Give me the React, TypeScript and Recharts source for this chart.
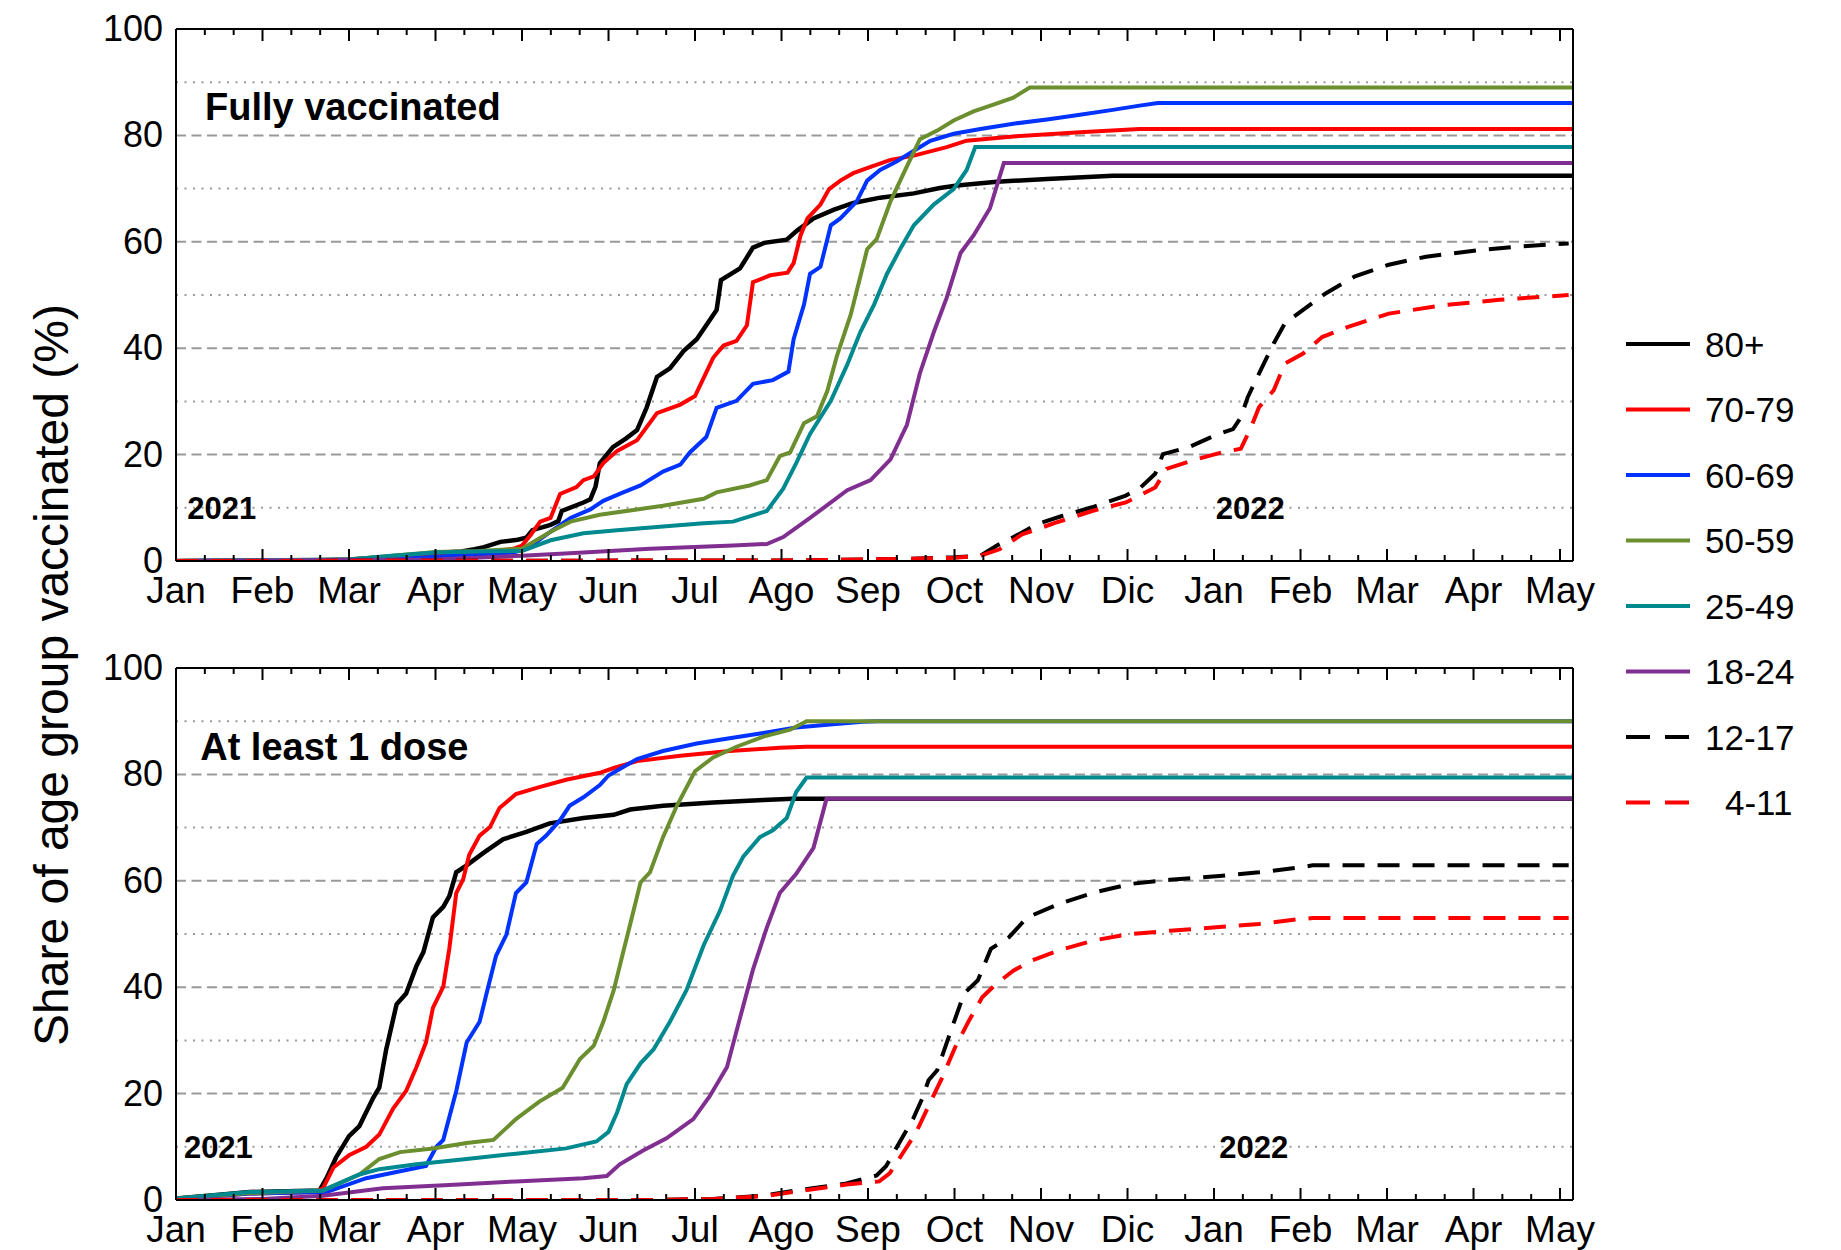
import React from 'react';
import { LineChart, Line, XAxis, YAxis, ReferenceLine, ReferenceDot } from 'recharts';

// x values are months since Jan 2021 (0 = Jan, 12 = Jan 2022), y values are % vaccinated
const MONTHS = ['Jan', 'Feb', 'Mar', 'Apr', 'May', 'Jun', 'Jul', 'Ago', 'Sep', 'Oct', 'Nov', 'Dic', 'Jan', 'Feb', 'Mar', 'Apr', 'May'];
const Y_TICKS = [0, 20, 40, 60, 80, 100];
const GRID_DASHED = [20, 40, 60, 80];
const GRID_DOTTED = [10, 30, 50, 70, 90];
const GROUPS = ['80+', '70-79', '60-69', '50-59', '25-49', '18-24', '12-17', '4-11'];
const COLORS = ['#000000', '#ff0000', '#0033ff', '#6b8e2f', '#00898f', '#802f90', '#000000', '#ff0000'];
const DASHED = [false, false, false, false, false, false, true, true];

type Pt = [number, number];

// Fully vaccinated
const full80: Pt[] = [[0, 0], [1.5, 0.1], [2.0, 0.3], [2.5, 0.8], [3.0, 1.5], [3.3, 1.8], [3.45, 2.2], [3.56, 2.6], [3.75, 3.6], [3.95, 4.0], [4.05, 4.4], [4.12, 5.8], [4.33, 6.8], [4.42, 7.5], [4.46, 9.4], [4.71, 11], [4.79, 11.6], [4.85, 14], [4.9, 18.4], [5.05, 21.4], [5.2, 23], [5.33, 24.6], [5.44, 28.8], [5.56, 34.6], [5.71, 36.2], [5.87, 39.5], [6.02, 41.7], [6.13, 44.3], [6.25, 47.2], [6.3, 52.8], [6.52, 55], [6.67, 58.9], [6.8, 59.8], [7.06, 60.4], [7.18, 62.1], [7.37, 64.4], [7.6, 66], [7.83, 67.3], [8.14, 68.3], [8.53, 69.1], [8.83, 70.1], [9.03, 70.6], [9.49, 71.3], [10.07, 71.8], [10.83, 72.4], [11.14, 72.4], [16.15, 72.4]];
const full70: Pt[] = [[0, 0], [2.0, 0.2], [3.0, 1.0], [3.5, 1.5], [3.9, 2.3], [4.0, 2.9], [4.1, 4.9], [4.21, 7.4], [4.33, 8.1], [4.44, 12.6], [4.63, 13.9], [4.71, 15.2], [4.83, 15.9], [4.94, 18.4], [5.1, 20.7], [5.33, 22.7], [5.56, 27.8], [5.83, 29.4], [6.0, 31], [6.21, 38.2], [6.33, 40.5], [6.48, 41.4], [6.6, 44.3], [6.67, 52.4], [6.87, 53.7], [7.07, 54.2], [7.14, 56], [7.22, 61.2], [7.3, 64.4], [7.45, 67], [7.55, 69.9], [7.68, 71.5], [7.83, 72.9], [8.03, 74.1], [8.26, 75.4], [8.53, 76.2], [8.91, 77.8], [9.14, 79], [9.68, 79.8], [10.45, 80.6], [11.14, 81.2], [16.15, 81.2]];
const full60: Pt[] = [[0, 0], [2.5, 0.3], [3.0, 0.8], [3.5, 1.2], [3.9, 1.6], [4.06, 2.3], [4.33, 5.5], [4.56, 8.1], [4.79, 9.7], [4.94, 11.3], [5.17, 12.9], [5.37, 14.2], [5.63, 16.8], [5.83, 18.1], [5.94, 20.4], [6.13, 23.3], [6.25, 28.8], [6.48, 30.1], [6.67, 33.3], [6.9, 34], [7.08, 35.6], [7.14, 41.7], [7.26, 48.2], [7.33, 54], [7.45, 55.3], [7.57, 63.1], [7.68, 64.4], [7.87, 67.6], [7.99, 71.5], [8.14, 73.5], [8.33, 75.1], [8.53, 77.1], [8.72, 79], [8.99, 80.3], [9.3, 81.2], [9.68, 82.2], [10.07, 83], [10.45, 83.9], [10.83, 84.8], [11.14, 85.6], [11.35, 86.1], [16.15, 86.1]];
const full50: Pt[] = [[0, 0], [2.0, 0.3], [2.5, 1.0], [3.0, 1.7], [3.5, 1.9], [4.0, 2.3], [4.33, 5.5], [4.56, 7.4], [4.9, 8.7], [5.33, 9.7], [5.63, 10.4], [6.1, 11.7], [6.25, 12.9], [6.63, 14.2], [6.83, 15.2], [6.98, 19.7], [7.1, 20.4], [7.26, 25.9], [7.41, 27.2], [7.53, 32], [7.64, 38.5], [7.8, 46.3], [7.91, 53.4], [7.99, 58.6], [8.1, 60.5], [8.26, 67.6], [8.41, 72.8], [8.6, 79.3], [8.8, 80.9], [8.99, 82.8], [9.22, 84.5], [9.45, 85.8], [9.68, 87.1], [9.87, 89], [16.15, 89]];
const full25: Pt[] = [[0, 0], [2.0, 0.3], [2.5, 1.0], [3.0, 1.6], [3.5, 1.8], [4.0, 1.9], [4.33, 3.9], [4.71, 5.2], [5.1, 5.8], [5.63, 6.5], [6.1, 7.1], [6.44, 7.4], [6.83, 9.4], [7.02, 13.6], [7.17, 18.4], [7.33, 23.9], [7.57, 30.1], [7.76, 36.9], [7.91, 43], [8.07, 48.2], [8.22, 54], [8.37, 58.6], [8.53, 63.1], [8.76, 67], [8.99, 69.9], [9.14, 73.5], [9.24, 77.8], [16.15, 77.8]];
const full18: Pt[] = [[0, 0], [3.0, 0.3], [4.0, 1.0], [4.71, 1.6], [5.48, 2.3], [6.44, 2.9], [6.83, 3.2], [7.02, 4.5], [7.33, 8.1], [7.76, 13.3], [8.03, 15.2], [8.26, 19.1], [8.45, 25.6], [8.6, 35.3], [8.76, 43], [8.91, 49.5], [9.07, 57.9], [9.22, 61.2], [9.41, 66.3], [9.57, 74.8], [16.15, 74.8]];
const full12: Pt[] = [[0, 0], [7.0, 0.1], [8.5, 0.4], [9.0, 0.7], [9.3, 1.0], [9.49, 2.9], [9.74, 5.0], [9.95, 6.9], [10.25, 8.5], [10.59, 10.1], [10.98, 12.3], [11.15, 13.8], [11.32, 16.4], [11.41, 20.1], [11.71, 21.4], [12.01, 23.6], [12.22, 24.8], [12.31, 27], [12.39, 30.8], [12.52, 35.2], [12.69, 40.9], [12.82, 44.7], [13.03, 47.2], [13.29, 50.3], [13.63, 53.5], [14.02, 55.7], [14.45, 57.2], [15.09, 58.5], [15.52, 59.1], [16.1, 59.7]];
const full4: Pt[] = [[0, 0], [7.0, 0.1], [8.5, 0.4], [9.0, 0.6], [9.3, 1.0], [9.52, 2.2], [9.78, 5.0], [10.17, 7.2], [10.59, 9.4], [10.98, 11], [11.32, 13.8], [11.45, 17.3], [11.75, 18.9], [12.09, 20.4], [12.31, 21.1], [12.43, 25.2], [12.52, 28.9], [12.69, 32.1], [12.82, 37.1], [13.03, 39], [13.25, 42.1], [13.55, 44], [14.02, 46.5], [14.66, 48.1], [15.3, 49.1], [16.1, 50]];

// At least 1 dose
const dose80: Pt[] = [[0, 0.3], [0.5, 1.0], [0.85, 1.5], [1.66, 1.8], [1.74, 4.1], [1.85, 8], [2.0, 12], [2.12, 13.9], [2.28, 19.2], [2.35, 21.1], [2.43, 28.3], [2.55, 36.8], [2.66, 38.8], [2.78, 44], [2.86, 46.6], [2.97, 53.1], [3.09, 55.1], [3.16, 57.1], [3.24, 61.6], [3.36, 62.9], [3.55, 65.2], [3.78, 67.8], [4.05, 69.2], [4.32, 70.8], [4.71, 71.8], [5.06, 72.4], [5.25, 73.4], [5.63, 74.1], [6.21, 74.7], [6.79, 75.2], [7.13, 75.4], [16.15, 75.4]];
const dose70: Pt[] = [[0, 0.2], [0.85, 1.2], [1.6, 1.5], [1.7, 2.2], [1.82, 6.1], [2.0, 8.4], [2.2, 10], [2.35, 12.3], [2.51, 17.2], [2.66, 20.5], [2.78, 25], [2.89, 29.6], [2.97, 36.1], [3.09, 40.1], [3.16, 47.3], [3.24, 57.7], [3.32, 60.3], [3.39, 64.9], [3.51, 68.5], [3.63, 70.1], [3.74, 73.7], [3.93, 76.3], [4.2, 77.6], [4.51, 79], [4.9, 80.3], [5.06, 81.2], [5.33, 82.5], [5.83, 83.5], [6.4, 84.4], [6.98, 85], [7.29, 85.2], [16.15, 85.2]];
const dose60: Pt[] = [[0, 0.2], [0.85, 1.2], [1.74, 1.5], [2.2, 4.1], [2.59, 5.4], [2.89, 6.4], [3.01, 10], [3.09, 11.3], [3.24, 20.5], [3.36, 29.6], [3.51, 33.5], [3.59, 38.8], [3.7, 45.9], [3.82, 49.9], [3.93, 57.7], [4.05, 59.7], [4.17, 66.9], [4.28, 68.5], [4.44, 71.4], [4.55, 74.1], [4.71, 75.7], [4.9, 78], [5.0, 79.8], [5.33, 82.9], [5.63, 84.4], [6.02, 85.8], [6.4, 86.8], [6.79, 87.8], [7.17, 88.8], [7.56, 89.4], [7.94, 89.9], [8.1, 90], [16.15, 90]];
const dose50: Pt[] = [[0, 0.3], [0.85, 1.3], [1.7, 1.8], [2.12, 4.8], [2.35, 7.7], [2.59, 9], [2.97, 9.7], [3.36, 10.7], [3.67, 11.3], [3.93, 15.2], [4.2, 18.5], [4.47, 21.1], [4.67, 26.5], [4.83, 29], [4.94, 33.5], [5.06, 39.4], [5.17, 46.6], [5.25, 51.8], [5.37, 59.7], [5.48, 61.6], [5.63, 68.2], [5.79, 74.1], [6.0, 80.6], [6.21, 83.2], [6.48, 85.2], [6.79, 87.1], [7.1, 88.4], [7.29, 90], [16.15, 90]];
const dose25: Pt[] = [[0, 0.3], [0.85, 1.5], [1.7, 1.8], [2.12, 4.8], [2.35, 5.8], [2.78, 6.7], [3.36, 7.7], [3.93, 8.7], [4.51, 9.7], [4.86, 11], [5.0, 12.8], [5.1, 16.5], [5.21, 21.8], [5.37, 25.7], [5.52, 28.3], [5.71, 33.5], [5.9, 39.4], [6.1, 47.9], [6.29, 54.4], [6.44, 61], [6.56, 64.6], [6.75, 68.2], [6.9, 69.5], [7.06, 71.8], [7.17, 76.7], [7.29, 79.4], [16.15, 79.4]];
const dose18: Pt[] = [[0, 0], [1.0, 0.2], [1.7, 0.8], [2.39, 2.2], [3.16, 2.8], [3.93, 3.5], [4.71, 4.1], [4.98, 4.5], [5.13, 6.7], [5.4, 9.3], [5.67, 11.6], [5.98, 15.2], [6.17, 19.5], [6.37, 25], [6.52, 34.2], [6.67, 43.3], [6.83, 51.2], [6.98, 57.7], [7.17, 61.3], [7.37, 66.2], [7.52, 75.4], [16.15, 75.4]];
const dose12: Pt[] = [[0, 0], [5.5, 0], [6.21, 0.2], [6.79, 0.8], [7.17, 1.8], [7.75, 3.1], [8.1, 4.6], [8.21, 6.4], [8.37, 11], [8.52, 15.2], [8.63, 19.2], [8.7, 22.5], [8.8, 24.4], [8.96, 31.9], [9.11, 38.8], [9.27, 41.3], [9.42, 47.2], [9.63, 49.4], [9.84, 53.1], [10.2, 55.6], [10.61, 57.8], [11.03, 59.4], [11.49, 60.2], [12.06, 60.9], [12.52, 61.6], [12.99, 62.5], [13.14, 62.9], [16.1, 62.9]];
const dose4: Pt[] = [[0, 0], [5.5, 0], [6.21, 0.2], [6.79, 0.7], [7.17, 1.6], [7.75, 2.9], [8.13, 3.5], [8.25, 5], [8.39, 8.5], [8.55, 12.5], [8.75, 19.4], [8.86, 23.1], [9.01, 28.8], [9.17, 33.8], [9.32, 38.1], [9.48, 40.6], [9.68, 43.1], [9.89, 45], [10.2, 46.9], [10.61, 48.8], [11.03, 50], [11.49, 50.6], [12.06, 51.3], [12.52, 51.9], [12.99, 52.8], [13.14, 53], [16.1, 53]];

const FULL = [full80, full70, full60, full50, full25, full18, full12, full4];
const DOSE = [dose80, dose70, dose60, dose50, dose25, dose18, dose12, dose4];

const X_MAX = 16.15;
const X_TICKS = Array.from({ length: 49 }, (_, i) => i / 3);
const W = 1841;
const PLOT_LEFT = 176;
const PLOT_RIGHT = 1573;
const AXIS_H = 50;
const FONT = '"Liberation Sans", Arial, Helvetica, sans-serif';

const isMajor = (v: number) => Math.abs(v - Math.round(v)) < 0.01;

const BottomTick = (props: any) => {
  const { x, y, payload } = props;
  const major = isMajor(payload.value);
  return (
    <g>
      <line x1={x} x2={x} y1={y} y2={y - (major ? 12 : 6)} stroke="#000" strokeWidth={2} />
      {major && (
        <text x={x} y={y + 42} textAnchor="middle" fontSize={37} fontFamily={FONT} fill="#000">
          {MONTHS[Math.round(payload.value)]}
        </text>
      )}
    </g>
  );
};

const TopTick = (props: any) => {
  const { x, y, payload } = props;
  const major = isMajor(payload.value);
  return <line x1={x} x2={x} y1={y} y2={y + (major ? 12 : 6)} stroke="#000" strokeWidth={2} />;
};

const LeftTick = (props: any) => {
  const { x, y, payload } = props;
  return (
    <text x={x - 13} y={y + 12} textAnchor="end" fontSize={36} fontFamily={FONT} fill="#000">
      {payload.value}
    </text>
  );
};

const label = (text: string, size: number, anchor: 'start' | 'middle') => (p: any) => (
  <text x={p.cx} y={p.cy + size * 0.36} textAnchor={anchor} fontSize={size} fontWeight="bold" fontFamily={FONT} fill="#000">
    {text}
  </text>
);

interface PanelProps {
  series: Pt[][];
  title: string;
  titleAt: Pt;
  year1At: Pt;
  year2At: Pt;
  height: number;
  plotTop: number;
  plotBottom: number;
}

function Panel({ series, title, titleAt, year1At, year2At, height, plotTop, plotBottom }: PanelProps) {
  const axisLine = { stroke: '#000', strokeWidth: 2 };
  return (
    <LineChart
      width={W}
      height={height}
      margin={{ top: plotTop - 1, left: PLOT_LEFT - 60, right: W - PLOT_RIGHT - 1, bottom: height - plotBottom - AXIS_H }}
    >
      <XAxis type="number" dataKey="x" domain={[0, X_MAX]} ticks={X_TICKS} interval={0} height={AXIS_H}
        tickSize={0} tickMargin={0} tickLine={false} tick={BottomTick} axisLine={axisLine} allowDataOverflow />
      <XAxis xAxisId="t" orientation="top" type="number" dataKey="x" domain={[0, X_MAX]} ticks={X_TICKS} interval={0}
        height={1} tickSize={0} tickMargin={0} tickLine={false} tick={TopTick} axisLine={axisLine} allowDataOverflow />
      <YAxis type="number" domain={[0, 100]} ticks={Y_TICKS} interval={0} width={60}
        tickSize={0} tickMargin={0} tickLine={false} tick={LeftTick} axisLine={axisLine} allowDataOverflow />
      <YAxis yAxisId="r" orientation="right" type="number" domain={[0, 100]} ticks={Y_TICKS} width={1}
        tick={false} tickLine={false} axisLine={axisLine} allowDataOverflow />

      {GRID_DASHED.map((v) => (
        <ReferenceLine key={'d' + v} y={v} stroke="#999" strokeWidth={2} strokeDasharray="10 5.5" />
      ))}
      {GRID_DOTTED.map((v) => (
        <ReferenceLine key={'o' + v} y={v} stroke="#999" strokeWidth={2} strokeDasharray="2 6.5" />
      ))}

      {series.map((s, i) => (
        <Line
          key={GROUPS[i]}
          data={s.map(([x, y]) => ({ x, y }))}
          dataKey="y"
          type="linear"
          stroke={COLORS[i]}
          strokeWidth={i === 0 ? 4.5 : 4}
          strokeDasharray={DASHED[i] ? '22 13' : undefined}
          dot={false}
          activeDot={false}
          isAnimationActive={false}
        />
      ))}

      <ReferenceDot x={titleAt[0]} y={titleAt[1]} r={0} shape={label(title, 38, 'start')} />
      <ReferenceDot x={year1At[0]} y={year1At[1]} r={0} shape={label('2021', 31, 'middle')} />
      <ReferenceDot x={year2At[0]} y={year2At[1]} r={0} shape={label('2022', 31, 'middle')} />
    </LineChart>
  );
}

export default function App() {
  return (
    <div style={{ position: 'absolute', left: 0, top: 0, width: W, height: 1250, background: '#fff', fontFamily: FONT }}>
      <div style={{ position: 'absolute', left: 0, top: 0 }}>
        <Panel series={FULL} title="Fully vaccinated" titleAt={[0.335, 85.5]} year1At={[0.53, 10]} year2At={[12.42, 10]}
          height={620} plotTop={29} plotBottom={561} />
      </div>
      <div style={{ position: 'absolute', left: 0, top: 620 }}>
        <Panel series={DOSE} title="At least 1 dose" titleAt={[0.28, 85.2]} year1At={[0.49, 10]} year2At={[12.46, 10]}
          height={630} plotTop={48} plotBottom={580} />
      </div>
      <svg width={W} height={1250} style={{ position: 'absolute', left: 0, top: 0, pointerEvents: 'none' }}>
        <text transform="translate(68,675) rotate(-90)" textAnchor="middle" fontSize={48} fontFamily={FONT} fill="#000">
          Share of age group vaccinated (%)
        </text>
        {GROUPS.map((g, i) => {
          const y = 344 + i * 65.5;
          return (
            <g key={g}>
              <line x1={1626} x2={1690} y1={y} y2={y} stroke={COLORS[i]} strokeWidth={4}
                strokeDasharray={DASHED[i] ? '24 15' : undefined} />
              <text x={g === '4-11' ? 1725 : 1705} y={y + 12.5} fontSize={35} fontFamily={FONT} fill="#000">
                {g}
              </text>
            </g>
          );
        })}
      </svg>
    </div>
  );
}
